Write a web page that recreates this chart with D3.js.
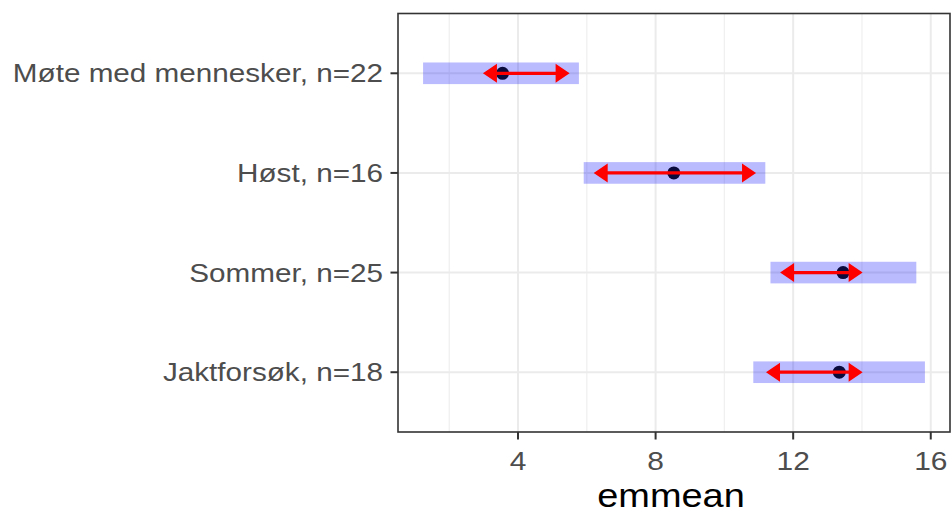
<!DOCTYPE html>
<html>
<head>
<meta charset="utf-8">
<script src="https://cdn.jsdelivr.net/npm/d3@7"></script>
<style>
  html, body { margin: 0; padding: 0; background: #ffffff; }
  svg { display: block; }
  text { font-family: "Liberation Sans", Arial, sans-serif; }
</style>
</head>
<body>
<svg id="chart" width="952" height="513"></svg>
<script>
// Estimated marginal means with confidence intervals and comparison arrows
const groups   = ["Jaktforsøk, n=18", "Sommer, n=25", "Høst, n=16", "Møte med mennesker, n=22"];
const emmean   = [13.34, 13.45, 8.53, 3.55];
const lowerCL  = [10.84, 11.34, 5.91, 1.24];
const upperCL  = [15.83, 15.58, 11.19, 5.77];
const arrowLo  = [11.21, 11.62, 6.20, 2.98];
const arrowHi  = [14.02, 14.02, 10.92, 5.50];
const xTicks   = [4, 8, 12, 16];
const xMinor   = [2, 6, 10, 14];
const xTitle   = "emmean";

const rows = groups.map((g, i) => ({
  group: g, emmean: emmean[i], lo: lowerCL[i], hi: upperCL[i],
  aLo: arrowLo[i], aHi: arrowHi[i]
}));

const svg = d3.select("#chart");
const panel = { left: 398, right: 950, top: 13.5, bottom: 432 };
const stretch = 1.15; // horizontal glyph stretch of the text

// x limits: data range with 5% expansion on each side
const xmin = d3.min(rows, d => Math.min(d.lo, d.aLo));
const xmax = d3.max(rows, d => Math.max(d.hi, d.aHi));
const pad = (xmax - xmin) * 0.05;
const x = d3.scaleLinear().domain([xmin - pad, xmax + pad]).range([panel.left, panel.right]);
const y = d3.scalePoint().domain(groups).range([panel.bottom, panel.top]).padding(0.6);
const step = y.step();

// clip to panel
svg.append("defs").append("clipPath").attr("id", "pclip")
  .append("rect").attr("x", panel.left).attr("y", panel.top)
  .attr("width", panel.right - panel.left).attr("height", panel.bottom - panel.top);

const g = svg.append("g").attr("clip-path", "url(#pclip)");

// background grid
g.selectAll("line.minor").data(xMinor).join("line")
  .attr("x1", d => x(d)).attr("x2", d => x(d))
  .attr("y1", panel.top).attr("y2", panel.bottom)
  .attr("stroke", "#f0f0f0").attr("stroke-width", 1.3);
g.selectAll("line.major").data(xTicks).join("line")
  .attr("x1", d => x(d)).attr("x2", d => x(d))
  .attr("y1", panel.top).attr("y2", panel.bottom)
  .attr("stroke", "#ebebeb").attr("stroke-width", 2);
g.selectAll("line.hgrid").data(groups).join("line")
  .attr("x1", panel.left).attr("x2", panel.right)
  .attr("y1", d => y(d)).attr("y2", d => y(d))
  .attr("stroke", "#ebebeb").attr("stroke-width", 2);

// confidence interval bars
const barH = step * 0.217;
g.selectAll("rect.ci").data(rows).join("rect")
  .attr("x", d => x(d.lo)).attr("width", d => x(d.hi) - x(d.lo))
  .attr("y", d => y(d.group) - barH / 2).attr("height", barH)
  .attr("fill", "#0000ff").attr("fill-opacity", 0.27);

// estimates
g.selectAll("circle.est").data(rows).join("circle")
  .attr("cx", d => x(d.emmean)).attr("cy", d => y(d.group)).attr("r", 6.5)
  .attr("fill", "#0a0a3c");

// comparison arrows
const headL = 14, headW = 9.5;
const arrows = g.selectAll("g.arrow").data(rows).join("g");
arrows.append("line")
  .attr("x1", d => x(d.aLo) + headL - 2).attr("x2", d => x(d.aHi) - headL + 2)
  .attr("y1", d => y(d.group)).attr("y2", d => y(d.group))
  .attr("stroke", "#ff0000").attr("stroke-width", 3.2);
arrows.append("path")
  .attr("d", d => {
    const yy = y(d.group), a = x(d.aLo), b = x(d.aHi);
    return `M${a},${yy}L${a + headL},${yy - headW}L${a + headL},${yy + headW}Z` +
           `M${b},${yy}L${b - headL},${yy - headW}L${b - headL},${yy + headW}Z`;
  })
  .attr("fill", "#ff0000");

// panel border
svg.append("rect")
  .attr("x", panel.left).attr("y", panel.top)
  .attr("width", panel.right - panel.left).attr("height", panel.bottom - panel.top)
  .attr("fill", "none").attr("stroke", "#333333").attr("stroke-width", 1.6);

// x axis
const xAxis = svg.append("g");
xAxis.selectAll("line").data(xTicks).join("line")
  .attr("x1", d => x(d)).attr("x2", d => x(d))
  .attr("y1", panel.bottom).attr("y2", panel.bottom + 7.5)
  .attr("stroke", "#333333").attr("stroke-width", 2);
xAxis.selectAll("text").data(xTicks).join("text")
  .attr("transform", d => `translate(${x(d)},470) scale(${stretch},1)`)
  .attr("text-anchor", "middle").attr("font-size", 26).attr("fill", "#4d4d4d")
  .text(d => d);

// y axis
const yAxis = svg.append("g");
yAxis.selectAll("line").data(groups).join("line")
  .attr("x1", panel.left - 7.5).attr("x2", panel.left)
  .attr("y1", d => y(d)).attr("y2", d => y(d))
  .attr("stroke", "#333333").attr("stroke-width", 2);
yAxis.selectAll("text").data(groups).join("text")
  .attr("transform", d => `translate(383,${y(d) + 9}) scale(${stretch},1)`)
  .attr("text-anchor", "end").attr("font-size", 25.8).attr("fill", "#4d4d4d")
  .text(d => d);

// axis title
svg.append("text")
  .attr("transform", `translate(${(panel.left + panel.right) / 2 - 3},507) scale(${stretch},1)`)
  .attr("text-anchor", "middle").attr("font-size", 33).attr("fill", "#000000")
  .text(xTitle);
</script>
</body>
</html>
